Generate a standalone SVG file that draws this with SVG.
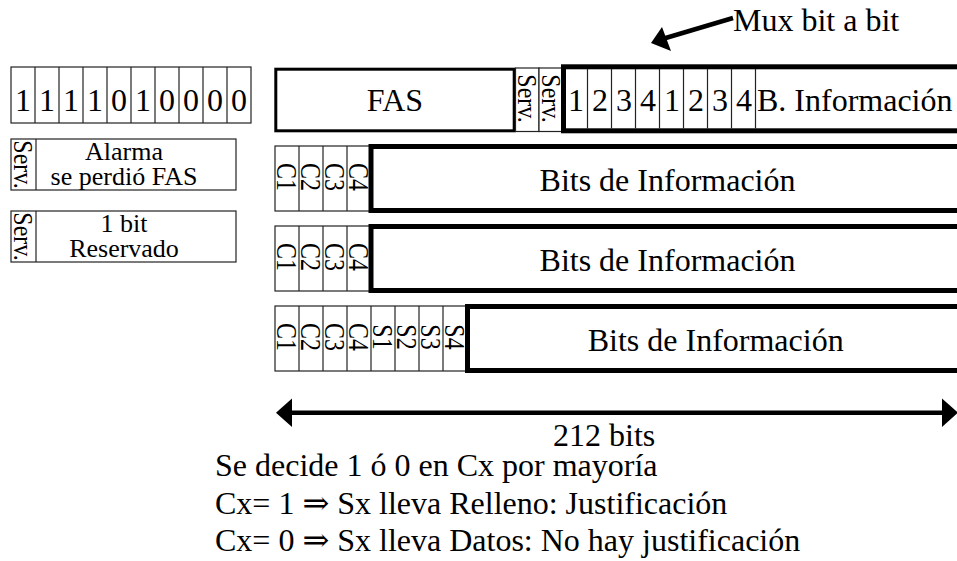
<svg xmlns="http://www.w3.org/2000/svg" width="957" height="561" viewBox="0 0 957 561">
  <defs>
    <style>
      text { font-family: "Liberation Serif", "Times New Roman", "DejaVu Serif", serif; fill: #000; }
      .big { font-size: 32px; }
      .mid { font-size: 26px; }
      .c { text-anchor: middle; }
      .rot { font-size: 24px; text-anchor: middle; dominant-baseline: central; }
      .thin { fill: #fff; stroke: #222; stroke-width: 1.2; }
      .tline { stroke: #222; stroke-width: 1.2; }
      .thick { fill: #fff; stroke: #000; stroke-width: 5; }
      .fas { fill: #fff; stroke: #000; stroke-width: 3; }
      .arrow { stroke: #000; stroke-width: 4.5; fill: none; }
      .head { fill: #000; stroke: none; }
    </style>
  </defs>
  <rect width="957" height="561" fill="#fff"/>

  <!-- frame alignment word -->
  <g id="fas-pattern">
    <rect class="thin" x="11" y="67" width="240" height="56"/>
    <line class="tline" x1="35" y1="67" x2="35" y2="123"/>
    <line class="tline" x1="59" y1="67" x2="59" y2="123"/>
    <line class="tline" x1="83" y1="67" x2="83" y2="123"/>
    <line class="tline" x1="107" y1="67" x2="107" y2="123"/>
    <line class="tline" x1="131" y1="67" x2="131" y2="123"/>
    <line class="tline" x1="155" y1="67" x2="155" y2="123"/>
    <line class="tline" x1="179" y1="67" x2="179" y2="123"/>
    <line class="tline" x1="203" y1="67" x2="203" y2="123"/>
    <line class="tline" x1="227" y1="67" x2="227" y2="123"/>
    <text class="big c" x="23" y="111">1</text>
    <text class="big c" x="47" y="111">1</text>
    <text class="big c" x="71" y="111">1</text>
    <text class="big c" x="95" y="111">1</text>
    <text class="big c" x="119" y="111">0</text>
    <text class="big c" x="143" y="111">1</text>
    <text class="big c" x="167" y="111">0</text>
    <text class="big c" x="191" y="111">0</text>
    <text class="big c" x="215" y="111">0</text>
    <text class="big c" x="239" y="111">0</text>
  </g>

  <g id="serv-alarma">
    <rect class="thin" x="11" y="139" width="225" height="51"/>
    <line class="tline" x1="36" y1="139" x2="36" y2="190"/>
    <text class="rot" transform="translate(23.5,164.5) rotate(90) scale(1,1.15)">Serv.</text>
    <text class="mid c" x="124" y="160">Alarma</text>
    <text class="mid c" x="124" y="185">se perdió FAS</text>
  </g>

  <g id="serv-reservado">
    <rect class="thin" x="11" y="211" width="225" height="51"/>
    <line class="tline" x1="36" y1="211" x2="36" y2="262"/>
    <text class="rot" transform="translate(23.5,236.5) rotate(90) scale(1,1.15)">Serv.</text>
    <text class="mid c" x="124" y="232">1 bit</text>
    <text class="mid c" x="124" y="257">Reservado</text>
  </g>

  <!-- row 1: FAS, service bits and interleaved information -->
  <g id="row-fas">
    <rect class="fas" x="275.8" y="69.2" width="238.4" height="61.6"/>
    <text class="big c" x="395" y="111">FAS</text>
    <rect class="thin" x="515.5" y="68" width="23.5" height="63.5"/>
    <rect class="thin" x="539" y="68" width="24" height="63.5"/>
    <text class="rot" transform="translate(527.5,98.5) rotate(90) scale(1,1.15)">Serv.</text>
    <text class="rot" transform="translate(551,98.5) rotate(90) scale(1,1.15)">Serv.</text>
  </g>

  <g id="row-mux">
    <rect class="thick" x="563.5" y="66.8" width="420" height="64"/>
    <line class="tline" x1="587.5" y1="69" x2="587.5" y2="128.5"/>
    <line class="tline" x1="611.5" y1="69" x2="611.5" y2="128.5"/>
    <line class="tline" x1="635.5" y1="69" x2="635.5" y2="128.5"/>
    <line class="tline" x1="659.5" y1="69" x2="659.5" y2="128.5"/>
    <line class="tline" x1="683.5" y1="69" x2="683.5" y2="128.5"/>
    <line class="tline" x1="707.5" y1="69" x2="707.5" y2="128.5"/>
    <line class="tline" x1="731.5" y1="69" x2="731.5" y2="128.5"/>
    <line class="tline" x1="755.5" y1="69" x2="755.5" y2="128.5"/>
    <text class="big c" x="576" y="111">1</text>
    <text class="big c" x="600" y="111">2</text>
    <text class="big c" x="624" y="111">3</text>
    <text class="big c" x="648" y="111">4</text>
    <text class="big c" x="672" y="111">1</text>
    <text class="big c" x="696" y="111">2</text>
    <text class="big c" x="720" y="111">3</text>
    <text class="big c" x="744" y="111">4</text>
    <text class="big" x="757" y="111">B. Información</text>
  </g>

  <!-- rows 2 and 3: justification control bits -->
  <g id="row-c1">
    <rect class="thin" x="275" y="146" width="96" height="65"/>
    <line class="tline" x1="299" y1="146" x2="299" y2="211"/>
    <line class="tline" x1="323" y1="146" x2="323" y2="211"/>
    <line class="tline" x1="347" y1="146" x2="347" y2="211"/>
    <text class="rot" transform="translate(287,177) rotate(90) scale(1,1.2)">C1</text>
    <text class="rot" transform="translate(311,177) rotate(90) scale(1,1.2)">C2</text>
    <text class="rot" transform="translate(335,177) rotate(90) scale(1,1.2)">C3</text>
    <text class="rot" transform="translate(359,177) rotate(90) scale(1,1.2)">C4</text>
    <rect class="thick" x="371" y="146.5" width="600" height="64"/>
    <text class="big c" x="667.5" y="191">Bits de Información</text>
  </g>

  <g id="row-c2">
    <rect class="thin" x="275" y="226" width="96" height="65"/>
    <line class="tline" x1="299" y1="226" x2="299" y2="291"/>
    <line class="tline" x1="323" y1="226" x2="323" y2="291"/>
    <line class="tline" x1="347" y1="226" x2="347" y2="291"/>
    <text class="rot" transform="translate(287,257) rotate(90) scale(1,1.2)">C1</text>
    <text class="rot" transform="translate(311,257) rotate(90) scale(1,1.2)">C2</text>
    <text class="rot" transform="translate(335,257) rotate(90) scale(1,1.2)">C3</text>
    <text class="rot" transform="translate(359,257) rotate(90) scale(1,1.2)">C4</text>
    <rect class="thick" x="371" y="226.5" width="600" height="64"/>
    <text class="big c" x="667.5" y="271">Bits de Información</text>
  </g>

  <!-- row 4: control bits plus stuffing opportunities -->
  <g id="row-c3">
    <rect class="thin" x="275" y="306" width="192" height="65"/>
    <line class="tline" x1="299" y1="306" x2="299" y2="371"/>
    <line class="tline" x1="323" y1="306" x2="323" y2="371"/>
    <line class="tline" x1="347" y1="306" x2="347" y2="371"/>
    <line class="tline" x1="371" y1="306" x2="371" y2="371"/>
    <line class="tline" x1="395" y1="306" x2="395" y2="371"/>
    <line class="tline" x1="419" y1="306" x2="419" y2="371"/>
    <line class="tline" x1="443" y1="306" x2="443" y2="371"/>
    <text class="rot" transform="translate(287,337) rotate(90) scale(1,1.2)">C1</text>
    <text class="rot" transform="translate(311,337) rotate(90) scale(1,1.2)">C2</text>
    <text class="rot" transform="translate(335,337) rotate(90) scale(1,1.2)">C3</text>
    <text class="rot" transform="translate(359,337) rotate(90) scale(1,1.2)">C4</text>
    <text class="rot" transform="translate(383,337) rotate(90) scale(1,1.2)">S1</text>
    <text class="rot" transform="translate(407,337) rotate(90) scale(1,1.2)">S2</text>
    <text class="rot" transform="translate(431,337) rotate(90) scale(1,1.2)">S3</text>
    <text class="rot" transform="translate(455,337) rotate(90) scale(1,1.2)">S4</text>
    <rect class="thick" x="467.5" y="306.5" width="510" height="64"/>
    <text class="big c" x="715.7" y="351">Bits de Información</text>
  </g>

  <g id="connectors">
    <!-- frame length dimension -->
    <line class="arrow" x1="290" y1="412.7" x2="944" y2="412.7"/>
    <polygon class="head" points="276,412.7 292,398.5 292,427"/>
    <polygon class="head" points="958,412.7 942,398.5 942,427"/>
    <!-- bit interleaving pointer -->
    <line class="arrow" x1="733" y1="18" x2="664" y2="38.5"/>
    <polygon class="head" points="651,43 662,27 671,51"/>
  </g>

  <g id="labels">
    <text class="big" x="733" y="31">Mux bit a bit</text>
    <text class="big" x="553" y="446">212 bits</text>
    <text class="big" x="215" y="476">Se decide 1 ó 0 en Cx por mayoría</text>
    <text class="big" x="215" y="513.5">Cx= 1 ⇒ Sx lleva Relleno: Justificación</text>
    <text class="big" x="215" y="551">Cx= 0 ⇒ Sx lleva Datos: No hay justificación</text>
  </g>
</svg>
